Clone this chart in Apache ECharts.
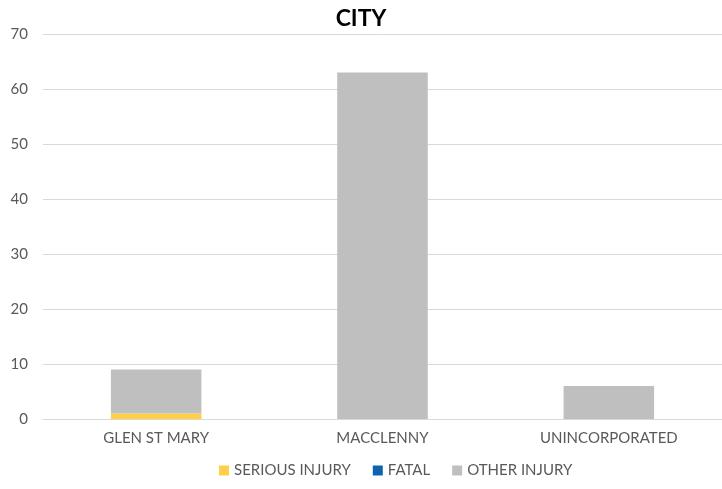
<!DOCTYPE html>
<html>
<head>
<meta charset="utf-8">
<script src="https://cdn.jsdelivr.net/npm/echarts@6/dist/echarts.min.js"></script>
<style>
  html, body { margin: 0; padding: 0; background: #fff; }
  #chart { width: 722px; height: 489px; }
</style>
</head>
<body>
<div id="chart"></div>
<script>
const categories = ['GLEN ST MARY', 'MACCLENNY', 'UNINCORPORATED']
const seriousInjury = [1, 0, 0]
const fatal = [0, 0, 0]
const otherInjury = [8, 63, 6]

const chart = echarts.init(document.getElementById('chart'))
const font = 'Lato, "Open Sans", sans-serif'

const bar = (name, data, color) => ({
  name: name,
  type: 'bar',
  stack: 'total',
  barWidth: '40%',
  itemStyle: { color: color },
  emphasis: { disabled: true },
  data: data
})

chart.setOption({
  animation: false,
  title: {
    text: 'CITY',
    left: 'center',
    top: 2,
    textStyle: { fontFamily: font, fontSize: 23, fontWeight: 'bold', color: '#000' }
  },
  grid: { left: 43, right: -3, top: 34, bottom: 70 },
  legend: {
    bottom: 6,
    left: 214,
    itemWidth: 10,
    itemHeight: 10,
    itemGap: 22,
    icon: 'rect',
    textStyle: { fontFamily: font, fontSize: 15, color: '#595959' },
    data: ['SERIOUS INJURY', 'FATAL', 'OTHER INJURY']
  },
  xAxis: {
    type: 'category',
    data: categories,
    axisTick: { show: false },
    axisLine: { lineStyle: { color: '#d9d9d9' } },
    axisLabel: { fontFamily: font, fontSize: 15, color: '#595959', margin: 12 }
  },
  yAxis: {
    type: 'value',
    min: 0,
    max: 70,
    interval: 10,
    axisLine: { show: false },
    axisTick: { show: false },
    splitLine: { lineStyle: { color: '#d9d9d9' } },
    axisLabel: { fontFamily: font, fontSize: 15, color: '#595959', margin: 15 }
  },
  series: [
    bar('SERIOUS INJURY', seriousInjury, '#FFCF45'),
    bar('FATAL', fatal, '#0F62AE'),
    bar('OTHER INJURY', otherInjury, '#BFBFBF')
  ]
})
</script>
</body>
</html>
